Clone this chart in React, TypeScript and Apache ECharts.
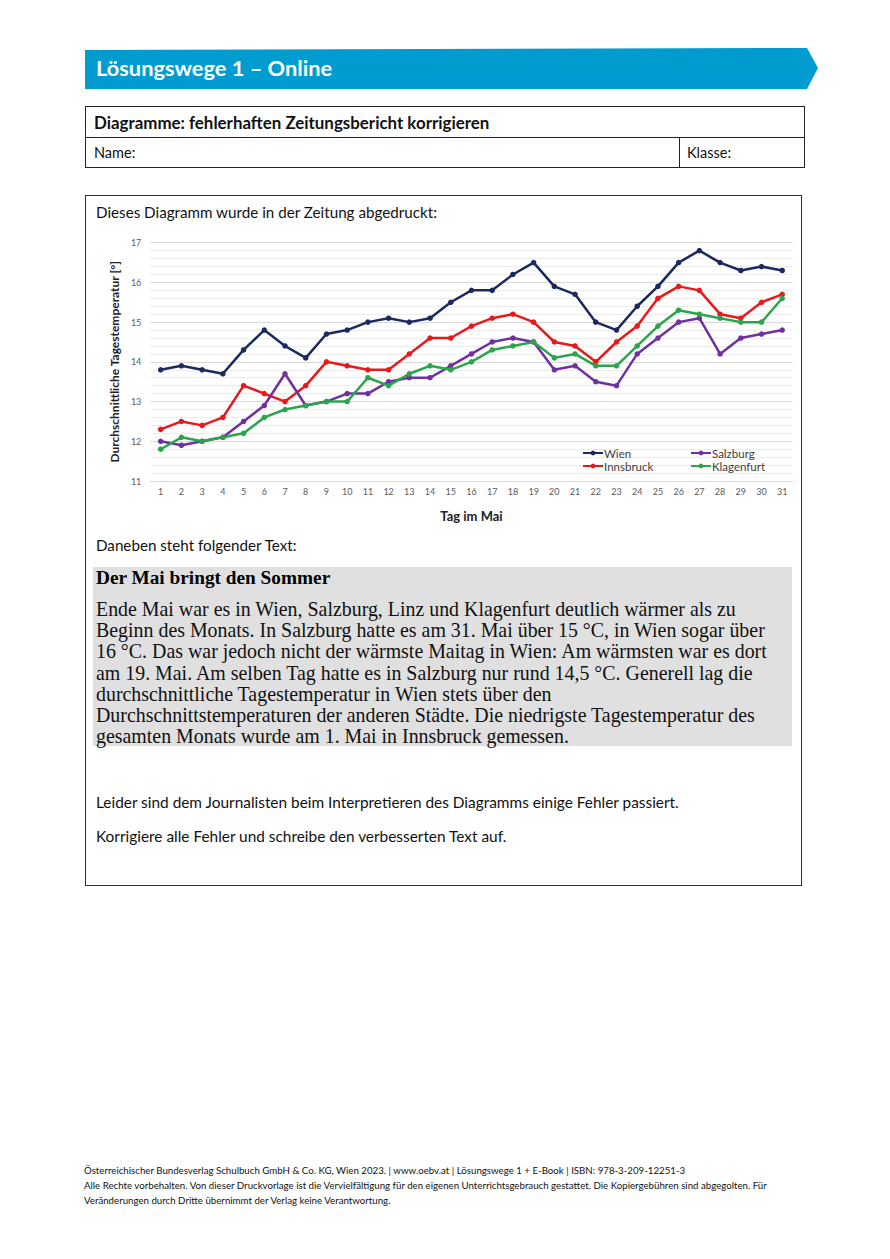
import React, { useEffect, useRef } from "react";
import * as echarts from "echarts";

const days = ["1","2","3","4","5","6","7","8","9","10","11","12","13","14","15","16","17","18","19","20","21","22","23","24","25","26","27","28","29","30","31"];
const wien = [13.8,13.9,13.8,13.7,14.3,14.8,14.4,14.1,14.7,14.8,15.0,15.1,15.0,15.1,15.5,15.8,15.8,16.2,16.5,15.9,15.7,15.0,14.8,15.4,15.9,16.5,16.8,16.5,16.3,16.4,16.3];
const innsbruck = [12.3,12.5,12.4,12.6,13.4,13.2,13.0,13.4,14.0,13.9,13.8,13.8,14.2,14.6,14.6,14.9,15.1,15.2,15.0,14.5,14.4,14.0,14.5,14.9,15.6,15.9,15.8,15.2,15.1,15.5,15.7];
const salzburg = [12.0,11.9,12.0,12.1,12.5,12.9,13.7,12.9,13.0,13.2,13.2,13.5,13.6,13.6,13.9,14.2,14.5,14.6,14.5,13.8,13.9,13.5,13.4,14.2,14.6,15.0,15.1,14.2,14.6,14.7,14.8];
const klagenfurt = [11.8,12.1,12.0,12.1,12.2,12.6,12.8,12.9,13.0,13.0,13.6,13.4,13.7,13.9,13.8,14.0,14.3,14.4,14.5,14.1,14.2,13.9,13.9,14.4,14.9,15.3,15.2,15.1,15.0,15.0,15.6];
const seriesNames = ["Wien", "Innsbruck", "Salzburg", "Klagenfurt"];
const seriesColors = ["#1b2a5e", "#e8191c", "#7030a0", "#2aa54c"];

const articleLines = [
  "Ende Mai war es in Wien, Salzburg, Linz und Klagenfurt deutlich wärmer als zu",
  "Beginn des Monats. In Salzburg hatte es am 31. Mai über 15 °C, in Wien sogar über",
  "16 °C. Das war jedoch nicht der wärmste Maitag in Wien: Am wärmsten war es dort",
  "am 19. Mai. Am selben Tag hatte es in Salzburg nur rund 14,5 °C. Generell lag die",
  "durchschnittliche Tagestemperatur in Wien stets über den",
  "Durchschnittstemperaturen der anderen Städte. Die niedrigste Tagestemperatur des",
  "gesamten Monats wurde am 1. Mai in Innsbruck gemessen.",
];

const footerLines = [
  "Österreichischer Bundesverlag Schulbuch GmbH & Co. KG, Wien 2023. | www.oebv.at | Lösungswege 1 + E-Book | ISBN: 978-3-209-12251-3",
  "Alle Rechte vorbehalten. Von dieser Druckvorlage ist die Vervielfältigung für den eigenen Unterrichtsgebrauch gestattet.  Die Kopiergebühren sind abgegolten. Für",
  "Veränderungen durch Dritte übernimmt der Verlag keine Verantwortung.",
];

const SANS = "Lato, 'Open Sans', sans-serif";
const SERIF = "'Liberation Serif', 'DejaVu Serif', serif";

function Chart() {
  const ref = useRef<HTMLDivElement>(null);
  useEffect(() => {
    if (!ref.current) return;
    const chart = echarts.init(ref.current, undefined, { renderer: "svg" });
    const data = [wien, innsbruck, salzburg, klagenfurt];
    const legendPos = [
      { left: 482, top: 215 },
      { left: 482, top: 228 },
      { left: 590, top: 215 },
      { left: 590, top: 228 },
    ];
    chart.setOption({
      animation: false,
      textStyle: { fontFamily: SANS },
      grid: { left: 38.75, right: 7.4, top: 10.7, bottom: 43 },
      legend: seriesNames.map((n, i) => ({
        data: [n],
        left: legendPos[i].left,
        top: legendPos[i].top,
        padding: 0,
        itemWidth: 20,
        itemHeight: 6,
        itemGap: 0,
        textStyle: { fontSize: 11.5, color: "#404040", padding: [0, 0, 0, -4], fontFamily: SANS },
      })),
      xAxis: {
        type: "category",
        data: days,
        boundaryGap: true,
        name: "Tag im Mai",
        nameLocation: "middle",
        nameGap: 28,
        nameTextStyle: { fontSize: 13, fontWeight: "bold", color: "#222" },
        axisLine: { show: true, lineStyle: { color: "#d9d9d9" } },
        axisTick: { show: false },
        axisLabel: { fontSize: 9, color: "#595959", margin: 6 },
      },
      yAxis: {
        type: "value",
        min: 11,
        max: 17,
        interval: 1,
        name: "Durchschnittliche Tagestemperatur [°]",
        nameLocation: "middle",
        nameGap: 27,
        nameTextStyle: { fontSize: 12, fontWeight: "bold", color: "#222" },
        axisLine: { show: false },
        axisTick: { show: false },
        axisLabel: { fontSize: 9, color: "#595959", margin: 9 },
        splitLine: { show: true, lineStyle: { color: "#d9d9d9", width: 1 } },
        minorTick: { show: false, splitNumber: 5 },
        minorSplitLine: { show: true, lineStyle: { color: "#ececec", width: 1 } },
      },
      series: seriesNames.map((n, i) => ({
        name: n,
        type: "line",
        data: data[i],
        symbol: "circle",
        symbolSize: 5.5,
        lineStyle: { width: 2.5, color: seriesColors[i] },
        itemStyle: { color: seriesColors[i] },
      })),
    });
    return () => chart.dispose();
  }, []);
  return <div ref={ref} style={{ position: "absolute", left: 100, top: 232, width: 700, height: 295 }} />;
}

export default function App() {
  const abs = (s: React.CSSProperties): React.CSSProperties => ({ position: "absolute", whiteSpace: "nowrap", ...s });
  return (
    <div style={{ position: "absolute", left: 0, top: 0, width: 890, height: 1259, background: "#fff", overflow: "hidden", fontFamily: SANS, color: "#111" }}>
      {/* Banner */}
      <div style={abs({ left: 85, top: 48, width: 733, height: 41, background: "#009ccf", clipPath: "polygon(0 2px, 722px 0, 733px 20px, 722px 41px, 0 41px)" })} />
      <div style={abs({ left: 96, top: 53, fontSize: 21.8, fontWeight: 700, color: "#fff", lineHeight: "30px" })}>Lösungswege 1 – Online</div>

      {/* Header table */}
      <div style={abs({ left: 85, top: 106, width: 718, height: 60, border: "1px solid #222" })} />
      <div style={abs({ left: 85, top: 137, width: 720, height: 1, background: "#222" })} />
      <div style={abs({ left: 679, top: 137, width: 1, height: 31, background: "#222" })} />
      <div style={abs({ left: 94, top: 111, fontSize: 16.9, fontWeight: 700, lineHeight: "24px" })}>Diagramme: fehlerhaften Zeitungsbericht korrigieren</div>
      <div style={abs({ left: 94, top: 143, fontSize: 14.5, lineHeight: "20px" })}>Name:</div>
      <div style={abs({ left: 687, top: 143, fontSize: 14.5, lineHeight: "20px" })}>Klasse:</div>

      {/* Main box */}
      <div style={abs({ left: 85, top: 195, width: 715, height: 689, border: "1px solid #333" })} />
      <div style={abs({ left: 96, top: 202, fontSize: 15.2, lineHeight: "20px" })}>Dieses Diagramm wurde in der Zeitung abgedruckt:</div>

      <Chart />

      <div style={abs({ left: 96, top: 535, fontSize: 15.2, lineHeight: "20px" })}>Daneben steht folgender Text:</div>

      {/* Article box */}
      <div style={abs({ left: 93, top: 567, width: 699, height: 179, background: "#e0e0e0" })} />
      <div style={abs({ left: 96, top: 566, fontSize: 19.3, fontWeight: 700, fontFamily: SERIF, lineHeight: "24px", color: "#000" })}>Der Mai bringt den Sommer</div>
      {articleLines.map((t, i) => (
        <div key={i} style={abs({ left: 96, top: 597 + i * 21.2, fontSize: 19.9, fontFamily: SERIF, lineHeight: "24px", color: "#111" })}>{t}</div>
      ))}

      <div style={abs({ left: 96, top: 792, fontSize: 15.4, lineHeight: "20px" })}>Leider sind dem Journalisten beim Interpretieren des Diagramms einige Fehler passiert.</div>
      <div style={abs({ left: 96, top: 826, fontSize: 15.4, lineHeight: "20px" })}>Korrigiere alle Fehler und schreibe den verbesserten Text auf.</div>

      {/* Footer */}
      {footerLines.map((t, i) => (
        <div key={i} style={abs({ left: 84, top: 1163 + i * 15, fontSize: 9.7, lineHeight: "14px", color: "#111" })}>{t}</div>
      ))}
    </div>
  );
}
